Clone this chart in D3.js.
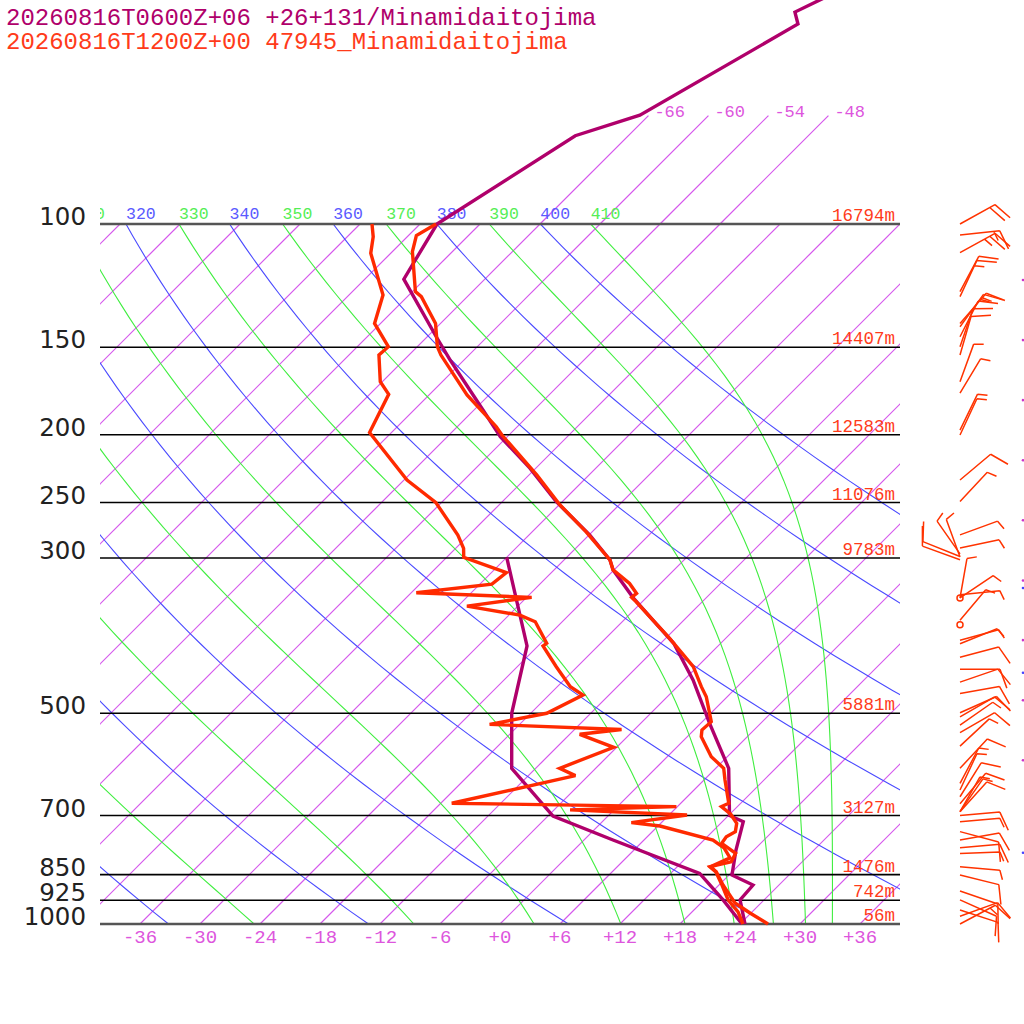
<!DOCTYPE html>
<html><head><meta charset="utf-8">
<script src="https://cdn.jsdelivr.net/npm/d3@7"></script>
<style>body{margin:0;background:#fff}svg{display:block}</style>
</head><body>
<script>
// ---------------- DATA ----------------
const titleFcst = "20260816T0600Z+06 +26+131/Minamidaitojima";
const titleObs  = "20260816T1200Z+00 47945_Minamidaitojima";
const pressureLevels = [100,150,200,250,300,500,700,850,925,1000];
const heightLabels = ["16794m","14407m","12583m","11076m","9783m","5881m","3127m","1476m","742m","56m"];
const tempTicks = [-36,-30,-24,-18,-12,-6,0,6,12,18,24,30,36];
const isothermTop = [-66,-60,-54,-48];
const thetaLevels = [240,260,280,300,320,340,360,380,400];
const thetaELevels = [250,270,290,310,330,350,370,390,410];

// observed sounding (pressure hPa, °C)
const obsTP = [100,103.9,109.5,124.9,127,138.7,149.7,153.9,175.5,194.8,200.2,228.4,252,275.3,302,312,326.2,337.1,341.5,346.5,368,390.8,429,458.1,473.5,514.1,528.4,540.1,576.8,599.2,622.7,672.2,679.6,697,718,738,750.4,766.9,792.7,815,828.1,842,879.6,933.3,964.5,1000];
const obsT  = [-76.4,-77.2,-76.0,-71.7,-70.6,-66.5,-64.0,-62.8,-56.2,-50.1,-48.7,-41.2,-35.9,-30.6,-25.4,-24.1,-21.1,-19.4,-19.5,-18.6,-15.1,-11.6,-6.4,-3.6,-2.1,0.9,0.8,1.4,4.4,6.8,8.1,10.8,10.4,12.1,13.6,14.3,13.9,14.1,16.5,16.9,15.3,16.4,18.4,21.4,23.9,26.8];
const obsTdP = [100,104.3,110.1,126.3,138.7,149.7,153.9,168,175.1,198.5,232.1,249.8,278.3,290.7,299.3,314.8,326.9,336.3,341.5,351.4,362,370,397.2,400.7,429,458.1,470.8,500,518.6,527.3,535.8,559.2,599.2,613.8,672.2,679.6,687.1,698.6,716.5,724.4,758.6,778.7,804.6,829,842.9,879.6,923.9,961.2,1000];
const obsTd  = [-82.8,-81.4,-80.0,-74.6,-72.6,-68.9,-69.0,-66.2,-64.1,-62.2,-53.7,-48.6,-43.1,-41.2,-40.3,-34.5,-34.8,-41.5,-29.5,-35.1,-28.9,-26.7,-23.4,-23.5,-20.1,-16.7,-14.6,-16.4,-21.0,-7.3,-11.0,-6.3,-9.6,-7.3,-16.9,5.9,-4.4,7.8,3.0,6.2,12.9,14.8,16.4,15.3,16.4,18.3,20.4,22.6,24.3];

// forecast profile
const fcstTP = [45.1,49.8,51.8,69.9,74.8,100,119.9,144.9,156.4,184.4,201.3,223.2,249.3,278.3,302,312,342.6,368,397.2,448.1,516.9,599.2,699.8,714.3,784,851.2,879.6,923.9,1000];
const fcstT  = [-58.5,-61.7,-60.2,-66.9,-71.3,-76.3,-74.1,-65.1,-61.4,-53.1,-48.7,-42.6,-36.6,-29.9,-25.4,-24.1,-19.2,-15.1,-10.7,-5.1,0.9,7.3,12.1,14.1,16.2,18.3,21.4,21.6,24.5];
const fcstTdP = [299.3,400.7,500,599.2,701,758.6,846.5,923.9,1000];
const fcstTd  = [-36.0,-25.1,-19.9,-14.4,-5.5,2.9,14.9,19.9,24.2];

// observed winds (pressure hPa, direction deg, speed kt)
const windP   = [100,103.7,109.9,124.9,127,138.7,140.2,144.9,149.7,153.9,168,174.4,197,200.2,232.1,249.2,278,290.4,296,298.6,299,301.8,338.7,342.2,342.2,368.3,393.1,397.7,415.9,432.7,451.3,468.4,499.2,506,520,533,557.1,599.2,629.5,643.5,658,673.5,691,691,691,700,714.3,738,758.6,778.4,792.7,828.1,851,897,923.9,955,975,1000];
const windDir = [61,84,61,28,25,41,36,27,19,16,20,31,26,25,50,43,70,78,325,292,340,290,84,10,56,40,75,68,75,90,71,80,66,60,55,60,47,43,28,25,32,40,35,42,30,85,85,105,80,85,88,95,104,109,114,108,70,62];
const windSpd = [20,15,25,10,15,15,15,10,10,10,5,5,5,5,10,5,5,5,5,10,5,10,5,5,5,5,5,5,10,10,10,10,10,10,5,10,5,10,5,5,10,10,5,10,5,10,5,10,10,10,5,5,10,10,10,10,10,15];
const calmP = [342.2,373.7];
// forecast wind marks (mostly outside the frame)
const fcstWindP = [120.2,146.5,178.5,217.5,265,323,393.1,479,583.6];
const extraWindP = [331.1,437.7,791];

// ---------------- COLOURS ----------------
const cFcst = "#b0006b", cObs = "#ff2a00", cObsTxt = "#ff3b1a";
const cIso = "#d558ec", cDry = "#4a4aff", cMoist = "#40ee40";
const mono = "'Liberation Mono', 'DejaVu Sans Mono', monospace";

// ---------------- SCALES ----------------
const yP = d3.scaleLog().domain([1000,100]).range([924,224]);
const xT = d3.scaleLinear().domain([-40,40]).range([100,900]);
const X = (T,p) => xT(T) + (yP(1000) - yP(p));
const line = d3.line().x(d=>X(d[1],d[0])).y(d=>yP(d[0]));

const svg = d3.select("body").append("svg").attr("width",1024).attr("height",1024);
svg.append("rect").attr("width",1024).attr("height",1024).attr("fill","#fff");
const defs = svg.append("defs");
defs.append("clipPath").attr("id","plot").append("rect").attr("x",100).attr("y",224).attr("width",800).attr("height",700);
defs.append("clipPath").attr("id","lab").append("rect").attr("x",100).attr("y",190).attr("width",800).attr("height",34);

const grid = svg.append("g").attr("clip-path","url(#plot)").attr("fill","none");
const logSteps = d3.range(0,61).map(i=>1000*Math.pow(0.1,i/60));

// isotherms
const isoAll = d3.range(-114,37,6);
grid.selectAll("path.iso").data(isoAll).join("path").attr("class","iso")
  .attr("d",T=>line([[1000,T],[100,T]])).attr("stroke",cIso).attr("stroke-width",1.2);
svg.selectAll("path.isoTop").data(isothermTop).join("path").attr("class","isoTop")
  .attr("d",T=>line([[100,T],[70,T]])).attr("stroke",cIso).attr("stroke-width",1.2).attr("fill","none");
svg.selectAll("text.isoTopLab").data(isothermTop).join("text").attr("class","isoTopLab")
  .attr("x",T=>X(T,70)+6).attr("y",yP(70)+1).text(T=>String(T))
  .attr("font-family",mono).attr("font-size",17).attr("fill","#dd55dd");

// dry adiabats
const dryT = (th,p)=> th*Math.pow(p/1000,0.2857)-273.15;
grid.selectAll("path.dry").data(thetaLevels).join("path").attr("class","dry")
  .attr("d",th=>line(logSteps.map(p=>[p,dryT(th,p)]))).attr("stroke",cDry).attr("stroke-width",1.1);

// moist adiabats (Bolton theta-e)
function thetaE(Tk,p){
  const Tc=Tk-273.15; const es=6.112*Math.exp(17.67*Tc/(Tc+243.5));
  if(es>=p*0.5) return 1e4;
  const r=622*es/(p-es);
  return Tk*Math.pow(1000/p,0.2854*(1-0.00028*r))*Math.exp((3.376/Tk-0.00254)*r*(1+0.00081*r));
}
function moistT(te,p){
  let lo=150,hi=340;
  for(let i=0;i<60;i++){const m=(lo+hi)/2; if(thetaE(m,p)>te) hi=m; else lo=m;}
  return (lo+hi)/2-273.15;
}
grid.selectAll("path.moist").data(thetaELevels).join("path").attr("class","moist")
  .attr("d",te=>line(logSteps.map(p=>[p,moistT(te,p)]))).attr("stroke",cMoist).attr("stroke-width",1.1);

// labels of adiabats at 100 hPa (only those reaching the frame)
const labG = svg.append("g").attr("clip-path","url(#lab)");
labG.selectAll("text.dl").data(thetaLevels.filter(th=>X(dryT(th,100),100)>75)).join("text").attr("class","dl")
  .attr("x",th=>X(dryT(th,100),100)).attr("y",219).text(d=>d)
  .attr("font-family",mono).attr("font-size",16.5).attr("fill","#5a5aff");
labG.selectAll("text.ml").data(thetaELevels.filter(te=>X(moistT(te,100),100)>70)).join("text").attr("class","ml")
  .attr("x",te=>X(moistT(te,100),100)).attr("y",219).text(d=>d)
  .attr("font-family",mono).attr("font-size",16.5).attr("fill","#55ee55");

// pressure lines
svg.selectAll("line.pl").data(pressureLevels).join("line").attr("class","pl")
  .attr("x1",100).attr("x2",900).attr("y1",p=>yP(p)).attr("y2",p=>yP(p))
  .attr("stroke",p=>(p===100||p===1000)?"#555":"#000").attr("stroke-width",p=>(p===100||p===1000)?2.5:1.6);
svg.selectAll("text.pll").data(pressureLevels).join("text").attr("class","pll")
  .attr("x",86).attr("y",p=>yP(p)+1).attr("text-anchor","end").text(d=>d)
  .attr("font-family","'DejaVu Sans', sans-serif").attr("font-size",24.5).attr("fill","#222");
svg.selectAll("text.hl").data(pressureLevels).join("text").attr("class","hl")
  .attr("x",895).attr("y",p=>yP(p)-3).attr("text-anchor","end").text((d,i)=>heightLabels[i])
  .attr("font-family",mono).attr("font-size",17.5).attr("fill",cObsTxt);

// temperature axis labels
svg.selectAll("text.tl").data(tempTicks).join("text").attr("class","tl")
  .attr("x",T=>xT(T)).attr("y",943).attr("text-anchor","middle").text(T=>T>=0?"+"+T:String(T))
  .attr("font-family",mono).attr("font-size",19).attr("fill","#dd55dd");

// profiles
const prof = (P,T)=>P.map((p,i)=>[p,T[i]]);
const drawProf=(data,col)=>svg.append("path").attr("d",line(data)).attr("fill","none")
  .attr("stroke",col).attr("stroke-width",3.4).attr("stroke-linejoin","miter").attr("stroke-miterlimit",3);
drawProf(prof(fcstTdP,fcstTd),cFcst);
drawProf(prof(fcstTP,fcstT),cFcst);
drawProf(prof(obsTdP,obsTd),cObs);
drawProf(prof(obsTP,obsT),cObs);

// wind barbs
const bx=960, L=40;
const bg=svg.append("g").attr("stroke","#ff3300").attr("stroke-width",1.5).attr("fill","none");
windP.forEach((p,i)=>{
  const b=windDir[i]*Math.PI/180, s=windSpd[i];
  const ux=Math.sin(b), uy=-Math.cos(b);
  const fb=b+70*Math.PI/180, fx=Math.sin(fb), fy=-Math.cos(fb);
  const y0=yP(p);
  let d=`M${bx},${y0}L${bx+ux*L},${y0+uy*L}`;
  let pos=L; const n10=Math.floor(s/10), n5=(s%10)>=5?1:0;
  for(let k=0;k<n10;k++){const sx=bx+ux*pos, sy=y0+uy*pos; d+=`M${sx},${sy}l${fx*20},${fy*20}`; pos-=6;}
  if(n5){const sx=bx+ux*pos, sy=y0+uy*pos; d+=`M${sx},${sy}l${fx*10},${fy*10}`;}
  bg.append("path").attr("d",d);
});
calmP.forEach(p=>bg.append("circle").attr("cx",bx).attr("cy",yP(p)).attr("r",3));
svg.selectAll("circle.fw").data(fcstWindP).join("circle").attr("class","fw").attr("cx",1023)
  .attr("cy",p=>yP(p)).attr("r",1.3).attr("fill","#cc33cc");
svg.selectAll("circle.ew").data(extraWindP).join("circle").attr("class","ew").attr("cx",1023)
  .attr("cy",p=>yP(p)).attr("r",1.3).attr("fill","#4444ff");

// titles
svg.append("text").attr("x",6).attr("y",25).text(titleFcst).attr("font-family",mono).attr("font-size",24).attr("fill",cFcst);
svg.append("text").attr("x",6).attr("y",49).text(titleObs).attr("font-family",mono).attr("font-size",24).attr("fill",cObsTxt);
</script>
</body></html>
